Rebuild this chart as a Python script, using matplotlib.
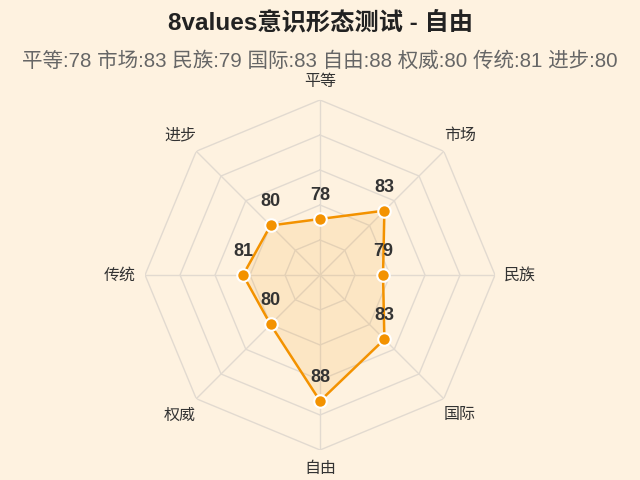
import numpy as np
import matplotlib
matplotlib.use("Agg")
import matplotlib.pyplot as plt

plt.rcParams['font.family'] = ['Liberation Sans', 'Noto Sans CJK SC', 'DejaVu Sans']

categories = ['平等', '市场', '民族', '国际', '自由', '权威', '传统', '进步']
values = [78, 83, 79, 83, 88, 80, 81, 80]
r_min, r_max = 70, 95
levels = [75, 80, 85, 90, 95]

title = '8values意识形态测试 - 自由'
subtitle = ' '.join(f'{c}:{v}' for c, v in zip(categories, values))

bg = '#FEF2E0'
orange = '#F39200'
grid_c = '#E2DAD0'

fig = plt.figure(figsize=(6.4, 4.8), dpi=100, facecolor=bg)
ax = fig.add_axes([0.2266, 0.0625, 0.5469, 0.7292], projection='polar')
ax.set_facecolor('none')
ax.set_theta_offset(np.pi / 2)
ax.set_theta_direction(-1)
ax.set_ylim(r_min, r_max)
ax.grid(False)
ax.spines['polar'].set_visible(False)
ax.set_xticks([])
ax.set_yticks([])

n = len(categories)
theta = np.arange(n) * 2 * np.pi / n
theta_c = np.append(theta, theta[0])

for lv in levels:
    ax.plot(theta_c, [lv] * (n + 1), color=grid_c, lw=1.0, zorder=1)
for t in theta:
    ax.plot([t, t], [r_min, r_max], color=grid_c, lw=1.0, zorder=1)

vals_c = np.append(values, values[0])
ax.fill(theta_c, vals_c, color=orange, alpha=0.12, zorder=2, lw=0)
ax.plot(theta_c, vals_c, color=orange, lw=1.8, zorder=3)
ax.plot(theta, values, 'o', color=orange, markersize=9, markeredgecolor='white',
        markeredgewidth=1.5, zorder=4)

for t, v in zip(theta, values):
    ax.annotate(str(v), (t, v), xytext=(0, 17), textcoords='offset points',
                ha='center', va='center', fontsize=13, fontweight='bold',
                color='#333333', zorder=5)

px_per_unit = 175 / (r_max - r_min)
for t, c in zip(theta, categories):
    gap = 18 + 7 * abs(np.sin(t))
    ax.text(t, r_max + gap / px_per_unit, c, ha='center', va='center',
            fontsize=11.5, color='#333333')

fig.text(0.5, 1 - 23 / 480, title, ha='center', va='center', fontsize=17.5,
         fontweight='bold', color='#222222')
fig.text(0.5, 1 - 61 / 480, subtitle, ha='center', va='center', fontsize=14.8,
         color='#666666')

fig.savefig('out.png', dpi=100, facecolor=bg)
